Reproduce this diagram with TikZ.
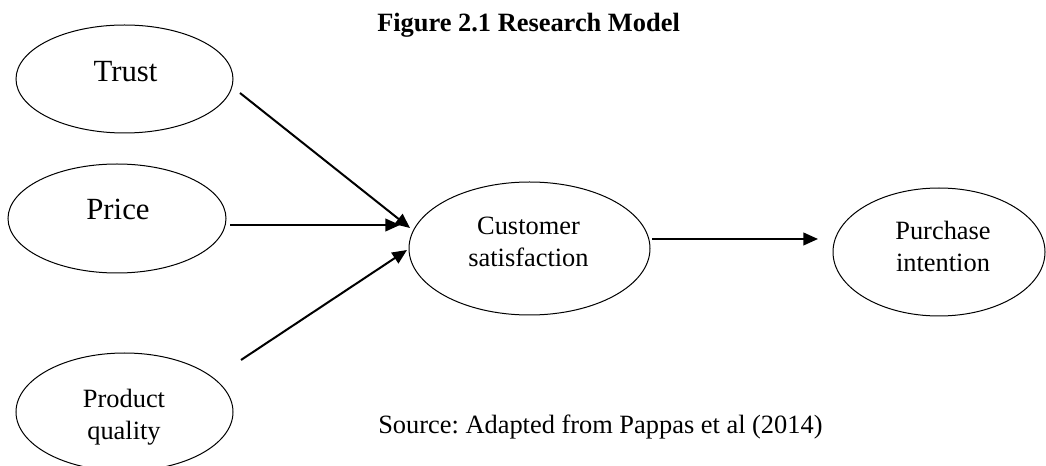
\documentclass[tikz,border=0pt]{standalone}
\usepackage{fontspec}
\setmainfont{Liberation Serif}
\usetikzlibrary{shapes.geometric,arrows.meta}
\frenchspacing

\tikzset{
  construct/.style={draw, ellipse, line width=0.75pt, inner sep=0pt},
  lbl/.style={anchor=base, inner sep=0pt, font=\fontsize{19.8}{24}\selectfont},
  biglbl/.style={anchor=base, inner sep=0pt, font=\fontsize{23.1}{28}\selectfont},
  link/.style={line width=1.5pt, -{Triangle[length=11pt,width=9.5pt]}}
}

\begin{document}
\begin{tikzpicture}[x=0.75pt,y=-0.75pt]
\useasboundingbox (0,0) rectangle (1046,466);

% constructs
\node[construct, minimum width=162.75pt, minimum height=81pt]   (trust)    at (124.5,79)  {};
\node[construct, minimum width=163.5pt,  minimum height=81.75pt] (price)   at (117,218.5) {};
\node[construct, minimum width=162.75pt, minimum height=88.5pt] (quality)  at (124.5,412) {};
\node[construct, minimum width=180.75pt, minimum height=99.75pt] (satisf)  at (529.5,248.5) {};
\node[construct, minimum width=159pt,    minimum height=96pt]   (intent)   at (939,252)   {};

% construct names
\node[biglbl] (trustlbl)  at (125.5,82)  {Trust};
\node[biglbl] (pricelbl)  at (118,220)   {Price};
\node[lbl]    (qualA)     at (124,408)   {Product};
\node[lbl]    (qualB)     at (124,440)   {quality};
\node[lbl]    (satA)      at (528.5,235) {Customer};
\node[lbl]    (satB)      at (528.5,267) {satisfaction};
\node[lbl]    (intA)      at (943,240)   {Purchase};
\node[lbl]    (intB)      at (943,272)   {intention};

% heading and source line
\node[lbl, anchor=base west, font=\fontsize{19.8}{24}\selectfont\bfseries] (title) at (377,32) {Figure 2.1 Research Model};
\node[lbl, anchor=base west] (source) at (378,434) {Source: Adapted from Pappas et al (2014)};

% connector end points
\coordinate (t0) at (240,93);  \coordinate (t1) at (410,228);
\coordinate (p0) at (230,225); \coordinate (p1) at (400,225);
\coordinate (q0) at (241,360); \coordinate (q1) at (407,250);
\coordinate (c0) at (652,239); \coordinate (c1) at (818,239);

% paths
\draw[link] (t0) -- (t1);
\draw[link] (p0) -- (p1);
\draw[link] (q0) -- (q1);
\draw[link] (c0) -- (c1);
\end{tikzpicture}
\end{document}
